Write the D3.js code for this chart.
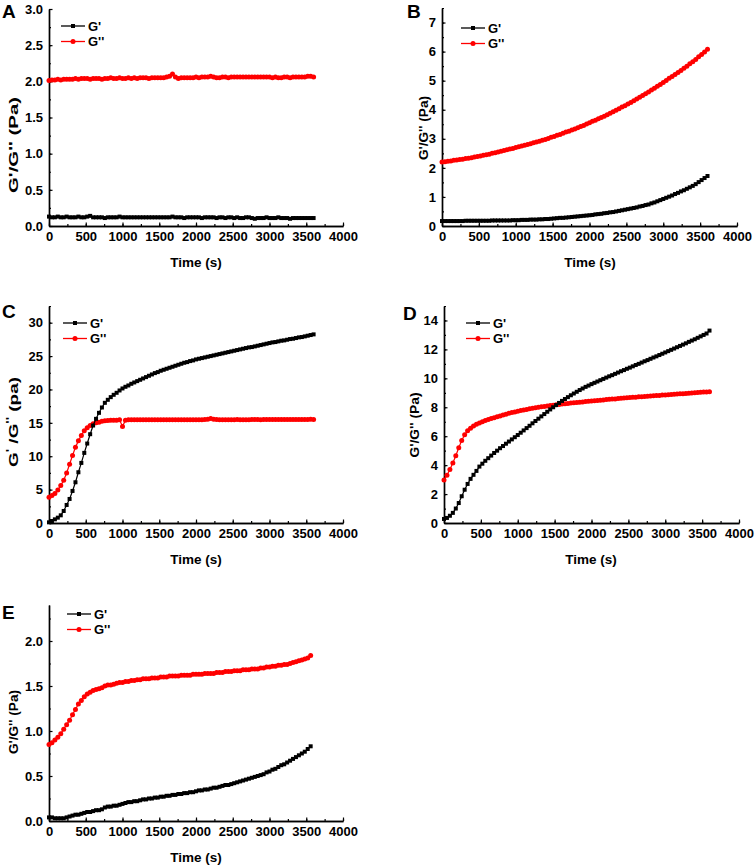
<!DOCTYPE html>
<html><head><meta charset="utf-8">
<script src="https://cdn.jsdelivr.net/npm/d3@7"></script>
<style>
body{margin:0;background:#fff}
svg{display:block}
text{font-family:"Liberation Sans",Arial,sans-serif;font-weight:bold;fill:#000}
</style>
</head><body>
<svg id="c" width="756" height="866"></svg>
<script>
// ---------- DATA ----------
const time = [
0,40,80,120,160,200,240,280,320,360,
400,440,480,520,560,600,640,680,720,760,
800,840,880,920,960,1000,1040,1080,1120,1160,
1200,1240,1280,1320,1360,1400,1440,1480,1520,1560,
1600,1640,1680,1720,1760,1800,1840,1880,1920,1960,
2000,2040,2080,2120,2160,2200,2240,2280,2320,2360,
2400,2440,2480,2520,2560,2600,2640,2680,2720,2760,
2800,2840,2880,2920,2960,3000,3040,3080,3120,3160,
3200,3240,3280,3320,3360,3400,3440,3480,3520,3560,
3600];

const seriesNames = ["G'", "G''"];
const xTicks = [0,500,1000,1500,2000,2500,3000,3500,4000];

const A_Gp = [
0.13,0.12,0.12,0.13,0.12,0.12,0.13,0.12,0.12,0.12,
0.13,0.12,0.12,0.13,0.14,0.12,0.12,0.12,0.12,0.11,
0.12,0.12,0.12,0.12,0.13,0.12,0.12,0.12,0.12,0.12,
0.12,0.12,0.12,0.12,0.12,0.12,0.12,0.12,0.12,0.12,
0.12,0.12,0.13,0.12,0.12,0.12,0.11,0.12,0.12,0.12,
0.12,0.12,0.11,0.12,0.12,0.12,0.12,0.11,0.12,0.12,
0.11,0.12,0.12,0.11,0.12,0.11,0.11,0.12,0.12,0.11,
0.10,0.11,0.11,0.11,0.12,0.11,0.11,0.11,0.12,0.11,
0.11,0.11,0.10,0.11,0.11,0.11,0.11,0.11,0.11,0.11,
0.11];
const A_Gpp = [
2.01,2.02,2.02,2.03,2.02,2.03,2.03,2.03,2.03,2.04,
2.03,2.04,2.04,2.04,2.03,2.04,2.04,2.04,2.03,2.04,
2.04,2.05,2.04,2.04,2.05,2.04,2.04,2.05,2.04,2.05,
2.04,2.05,2.05,2.05,2.04,2.05,2.05,2.05,2.05,2.05,
2.06,2.07,2.10,2.06,2.04,2.05,2.05,2.05,2.05,2.05,
2.06,2.05,2.06,2.06,2.06,2.07,2.06,2.05,2.05,2.06,
2.06,2.05,2.06,2.06,2.06,2.06,2.06,2.06,2.06,2.06,
2.06,2.06,2.06,2.06,2.06,2.06,2.05,2.06,2.05,2.05,
2.06,2.06,2.05,2.06,2.06,2.06,2.06,2.06,2.07,2.07,
2.06];

const B_Gp = [
0.17,0.17,0.17,0.17,0.17,0.17,0.17,0.17,0.18,0.18,
0.18,0.18,0.18,0.18,0.18,0.18,0.18,0.19,0.19,0.19,
0.19,0.19,0.19,0.19,0.20,0.20,0.20,0.21,0.21,0.21,
0.22,0.22,0.22,0.23,0.23,0.24,0.24,0.25,0.26,0.27,
0.28,0.28,0.29,0.30,0.31,0.32,0.33,0.34,0.35,0.36,
0.37,0.38,0.40,0.41,0.42,0.44,0.45,0.47,0.48,0.50,
0.52,0.54,0.56,0.58,0.60,0.62,0.64,0.67,0.69,0.72,
0.74,0.78,0.81,0.85,0.89,0.93,0.97,1.01,1.05,1.10,
1.14,1.19,1.23,1.28,1.33,1.38,1.44,1.51,1.58,1.65,
1.72];
const B_Gpp = [
2.20,2.21,2.23,2.24,2.26,2.27,2.29,2.30,2.32,2.33,
2.35,2.37,2.39,2.41,2.43,2.45,2.47,2.50,2.52,2.55,
2.57,2.60,2.62,2.65,2.67,2.70,2.73,2.75,2.78,2.80,
2.83,2.86,2.89,2.92,2.95,2.98,3.01,3.05,3.08,3.12,
3.15,3.19,3.23,3.26,3.30,3.34,3.38,3.42,3.46,3.51,
3.55,3.60,3.64,3.69,3.73,3.78,3.83,3.88,3.93,3.98,
4.03,4.09,4.14,4.20,4.25,4.31,4.37,4.43,4.49,4.55,
4.61,4.68,4.74,4.81,4.87,4.94,5.01,5.08,5.14,5.21,
5.28,5.35,5.43,5.50,5.58,5.65,5.73,5.82,5.90,5.99,
6.08];

const C_Gp = [
0.10,0.30,0.55,0.80,1.15,1.80,2.70,3.60,4.80,6.10,
7.60,9.00,10.5,11.9,13.3,14.6,15.6,16.5,17.3,18.0,
18.45,18.85,19.2,19.5,19.85,20.15,20.4,20.6,20.85,21.05,
21.25,21.45,21.65,21.85,22.05,22.25,22.45,22.6,22.8,22.95,
23.1,23.25,23.4,23.55,23.7,23.85,24.0,24.1,24.25,24.35,
24.5,24.6,24.7,24.8,24.9,25.0,25.1,25.2,25.3,25.4,
25.5,25.6,25.7,25.8,25.9,26.0,26.1,26.2,26.3,26.35,
26.45,26.55,26.65,26.75,26.85,26.95,27.05,27.1,27.2,27.3,
27.35,27.45,27.55,27.6,27.7,27.8,27.85,27.95,28.05,28.15,
28.25];
const C_Gpp = [
3.85,4.10,4.40,4.95,5.60,6.40,7.50,8.80,10.1,11.35,
12.3,13.1,13.8,14.25,14.6,14.85,15.0,15.1,15.25,15.3,
15.35,15.4,15.4,15.4,15.45,14.45,15.4,15.45,15.45,15.45,
15.45,15.45,15.45,15.45,15.45,15.45,15.45,15.45,15.45,15.45,
15.45,15.45,15.45,15.45,15.45,15.45,15.45,15.45,15.45,15.45,
15.45,15.45,15.45,15.5,15.55,15.65,15.55,15.5,15.45,15.45,
15.45,15.45,15.45,15.45,15.5,15.45,15.45,15.45,15.45,15.5,
15.5,15.5,15.45,15.5,15.5,15.5,15.5,15.5,15.5,15.5,
15.5,15.5,15.5,15.5,15.5,15.5,15.5,15.5,15.5,15.55,
15.5];

const D_Gp = [
0.28,0.35,0.50,0.70,1.00,1.38,1.85,2.30,2.70,3.05,
3.33,3.60,3.90,4.10,4.30,4.48,4.66,4.84,5.00,5.17,
5.32,5.48,5.63,5.78,5.93,6.08,6.24,6.40,6.56,6.72,
6.89,7.05,7.21,7.37,7.53,7.69,7.85,8.00,8.15,8.30,
8.44,8.57,8.70,8.83,8.95,9.07,9.19,9.30,9.41,9.50,
9.60,9.69,9.78,9.87,9.96,10.05,10.14,10.22,10.31,10.40,
10.49,10.57,10.66,10.74,10.83,10.92,11.00,11.09,11.18,11.26,
11.35,11.44,11.52,11.61,11.70,11.79,11.88,11.97,12.06,12.15,
12.24,12.33,12.42,12.52,12.61,12.70,12.80,12.90,13.00,13.10,
13.30];
const D_Gpp = [
2.98,3.30,3.70,4.15,4.65,5.20,5.70,6.10,6.38,6.55,
6.70,6.82,6.92,7.00,7.08,7.15,7.22,7.28,7.34,7.40,
7.46,7.52,7.58,7.63,7.68,7.73,7.77,7.81,7.85,7.89,
7.93,7.96,8.00,8.03,8.06,8.09,8.12,8.14,8.17,8.19,
8.22,8.24,8.26,8.29,8.31,8.33,8.35,8.37,8.39,8.41,
8.43,8.45,8.47,8.49,8.51,8.53,8.55,8.57,8.58,8.60,
8.62,8.64,8.65,8.67,8.69,8.70,8.72,8.73,8.75,8.76,
8.78,8.79,8.81,8.82,8.84,8.85,8.87,8.88,8.90,8.91,
8.93,8.94,8.96,8.97,8.99,9.00,9.02,9.03,9.05,9.06,
9.08];

const E_Gp = [
0.04,0.04,0.03,0.03,0.03,0.03,0.04,0.05,0.06,0.07,
0.07,0.08,0.09,0.10,0.10,0.11,0.12,0.12,0.13,0.15,
0.16,0.16,0.17,0.17,0.18,0.19,0.20,0.21,0.21,0.22,
0.22,0.23,0.24,0.24,0.25,0.25,0.26,0.26,0.27,0.27,
0.28,0.28,0.29,0.29,0.30,0.30,0.31,0.31,0.32,0.32,
0.33,0.34,0.34,0.35,0.35,0.36,0.37,0.37,0.38,0.39,
0.40,0.40,0.41,0.42,0.43,0.44,0.45,0.46,0.47,0.48,
0.49,0.50,0.51,0.52,0.54,0.55,0.57,0.58,0.60,0.62,
0.63,0.65,0.67,0.69,0.71,0.73,0.75,0.77,0.80,0.83];
const E_Gpp = [
0.85,0.87,0.90,0.93,0.97,1.02,1.07,1.12,1.18,1.24,
1.30,1.34,1.38,1.41,1.43,1.45,1.46,1.47,1.48,1.50,
1.51,1.51,1.52,1.53,1.54,1.54,1.55,1.55,1.56,1.56,
1.57,1.57,1.58,1.58,1.58,1.59,1.59,1.59,1.60,1.60,
1.60,1.61,1.61,1.61,1.61,1.62,1.62,1.62,1.62,1.63,
1.63,1.63,1.63,1.64,1.64,1.64,1.64,1.65,1.65,1.65,
1.66,1.66,1.66,1.67,1.67,1.67,1.68,1.68,1.68,1.69,
1.69,1.69,1.70,1.70,1.71,1.71,1.72,1.72,1.73,1.73,
1.74,1.74,1.75,1.76,1.77,1.78,1.79,1.80,1.81,1.84];

// ---------- LAYOUT ----------
const panels = [
 {letter:"A", gp:A_Gp, gpp:A_Gpp, yMax:3.0, yStep:0.5, yMinor:0.25, fmt:".1f",
  x0:49, x1:343, yTop:9, yBot:226, lx:2, ly:18,
  ylab:{x:18, y:145, len:96}, leg:{x:61, y:26}, tlab:{x:196, y:267}},
 {letter:"B", gp:B_Gp, gpp:B_Gpp, yMax:7.5, yStep:1, yMinor:0.5, fmt:"d",
  x0:442, x1:737, yTop:8, yBot:226, lx:407, ly:18,
  ylab:{x:428, y:128, len:64}, leg:{x:461, y:28}, tlab:{x:590, y:267}},
 {letter:"C", gp:C_Gp, gpp:C_Gpp, yMax:32.5, yStep:5, yMinor:2.5, fmt:"d",
  x0:49, x1:343, yTop:306, yBot:523, lx:2, ly:318,
  ylab:{x:18, y:422, len:90, special:true}, leg:{x:63, y:323}, tlab:{x:196, y:564}},
 {letter:"D", gp:D_Gp, gpp:D_Gpp, yMax:15, yStep:2, yMinor:1, fmt:"d",
  x0:444, x1:739, yTop:306, yBot:523, lx:403, ly:320,
  ylab:{x:419, y:425, len:65}, leg:{x:466, y:323}, tlab:{x:591, y:564}},
 {letter:"E", gp:E_Gp, gpp:E_Gpp, yMax:2.4, yStep:0.5, yMinor:0.25, fmt:".1f",
  x0:49, x1:343, yTop:605, yBot:821, lx:2, ly:619,
  ylab:{x:18, y:722, len:64}, leg:{x:67, y:614}, tlab:{x:196, y:862}}
];

const BLACK = "#000", RED = "#ff0000";
const FONT = '"Liberation Sans", Arial, sans-serif';
const svg = d3.select("#c");

function styleAxis(g){
  g.attr("font-family", FONT).attr("font-size", 13).attr("font-weight","bold");
  g.select(".domain").attr("stroke", "#000").attr("stroke-width", 1.4);
  g.selectAll(".tick line").attr("stroke", "#000").attr("stroke-width", 1.2);
  g.selectAll(".tick text").attr("fill", "#000");
}

panels.forEach(P => {
  const g = svg.append("g");
  const x = d3.scaleLinear().domain([0, 4000]).range([P.x0, P.x1]);
  const y = d3.scaleLinear().domain([0, P.yMax]).range([P.yBot, P.yTop]);

  // minor ticks
  const xMinor = d3.range(0, 4000.001, 250);
  const yMinorV = d3.range(0, P.yMax + 1e-9, P.yMinor);
  g.append("g").attr("transform", `translate(0,${P.yBot})`)
    .call(d3.axisBottom(x).tickValues(xMinor).tickSizeInner(-2).tickSizeOuter(0).tickFormat(""))
    .call(styleAxis);
  g.append("g").attr("transform", `translate(${P.x0},0)`)
    .call(d3.axisLeft(y).tickValues(yMinorV).tickSizeInner(-2).tickSizeOuter(0).tickFormat(""))
    .call(styleAxis);
  // major
  g.append("g").attr("transform", `translate(0,${P.yBot})`)
    .call(d3.axisBottom(x).tickValues(xTicks).tickSizeInner(-3.5).tickSizeOuter(0).tickPadding(6).tickFormat(d3.format("d")))
    .call(styleAxis);
  const yMajor = d3.range(0, P.yMax + 1e-9, P.yStep);
  g.append("g").attr("transform", `translate(${P.x0},0)`)
    .call(d3.axisLeft(y).tickValues(yMajor).tickSizeInner(-3.5).tickSizeOuter(0).tickPadding(6).tickFormat(d3.format(P.fmt)))
    .call(styleAxis);

  // series
  const mk = arr => arr.map((v, i) => ({t: time[i], v}));
  const dGp = mk(P.gp), dGpp = mk(P.gpp);
  const line = d3.line().x(d => x(d.t)).y(d => y(d.v));

  g.append("path").attr("d", line(dGpp)).attr("fill","none").attr("stroke", RED).attr("stroke-width", 1.2);
  g.append("g").selectAll("circle").data(dGpp).join("circle")
    .attr("cx", d => x(d.t)).attr("cy", d => y(d.v)).attr("r", 2.5).attr("fill", RED);

  g.append("path").attr("d", line(dGp)).attr("fill","none").attr("stroke", BLACK).attr("stroke-width", 1.2);
  g.append("g").selectAll("rect").data(dGp).join("rect")
    .attr("x", d => x(d.t) - 2).attr("y", d => y(d.v) - 2)
    .attr("width", 4).attr("height", 4).attr("fill", BLACK);

  // panel letter
  g.append("text").attr("x", P.lx).attr("y", P.ly).attr("font-size", 19).text(P.letter);

  // y label
  const yl = g.append("text")
    .attr("transform", `translate(${P.ylab.x},${P.ylab.y}) rotate(-90)`)
    .attr("text-anchor", "middle").attr("font-size", 13.5)
    .attr("textLength", P.ylab.len).attr("lengthAdjust", "spacingAndGlyphs");
  if (P.ylab.special) {
    yl.append("tspan").text("G");
    yl.append("tspan").attr("dy", -4).attr("font-size", 10).text("'");
    yl.append("tspan").attr("dy", 4).text(" /G");
    yl.append("tspan").attr("dy", -4).attr("font-size", 10).text("''");
    yl.append("tspan").attr("dy", 4).text(" (pa)");
  } else {
    yl.text("G'/G'' (Pa)");
  }

  // x label
  g.append("text").attr("x", P.tlab.x).attr("y", P.tlab.y)
    .attr("text-anchor", "middle").attr("font-size", 13.5).text("Time (s)");

  // legend
  const legItems = [
    {name: seriesNames[0], color: BLACK, shape: "square", dy: 0},
    {name: seriesNames[1], color: RED, shape: "circle", dy: 15.5}
  ];
  legItems.forEach(it => {
    const ly = P.leg.y + it.dy;
    g.append("line").attr("x1", P.leg.x).attr("x2", P.leg.x + 24)
      .attr("y1", ly).attr("y2", ly).attr("stroke", it.color).attr("stroke-width", 1.3);
    if (it.shape === "square") {
      g.append("rect").attr("x", P.leg.x + 12 - 2).attr("y", ly - 2)
        .attr("width", 4).attr("height", 4).attr("fill", it.color);
    } else {
      g.append("circle").attr("cx", P.leg.x + 12).attr("cy", ly).attr("r", 2.5).attr("fill", it.color);
    }
    g.append("text").attr("x", P.leg.x + 27).attr("y", ly + 4.5)
      .attr("font-size", 13).text(it.name);
  });
});
</script>
</body></html>
